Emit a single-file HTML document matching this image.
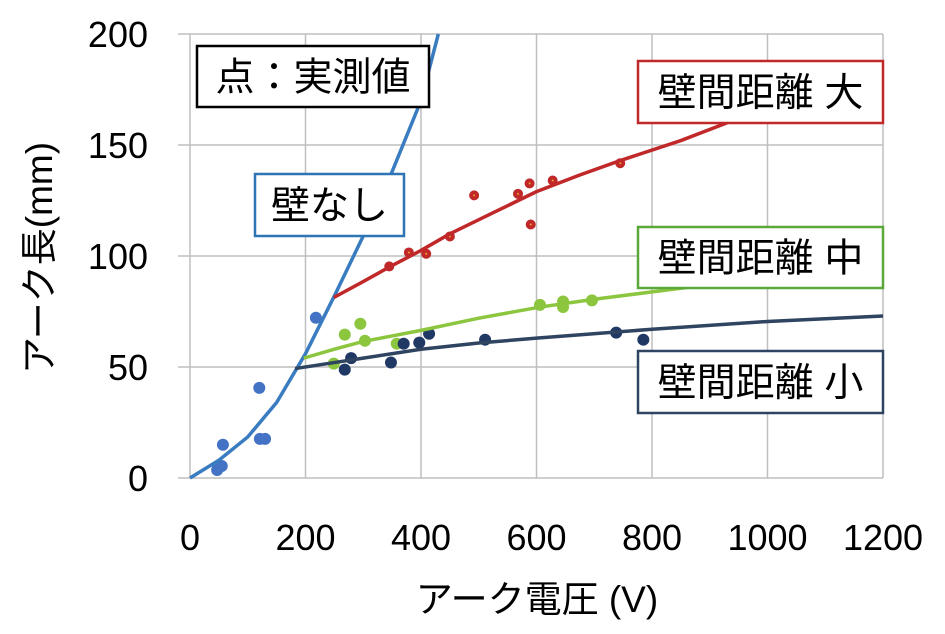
<!DOCTYPE html>
<html><head><meta charset="utf-8">
<style>
body{margin:0;background:#fff;}
svg{display:block;font-family:"Liberation Sans","Noto Sans CJK JP",sans-serif;}
</style></head>
<body>
<svg id="chart" width="945" height="634" viewBox="0 0 945 634" xmlns="http://www.w3.org/2000/svg">
<g id="grid"></g>
<g id="series"></g>
<g id="labels"></g>
</svg>
<script>
const xTicks=[0,200,400,600,800,1000,1200];
const yTicks=[0,50,100,150,200];
const noWallX=[47,55,57,120,121,130,218];
const noWallY=[3.6,5.4,15,40.6,17.6,17.6,72.2];
const noWallFitX=[0,50,100,150,200,250,300,350,400,430];
const noWallFitY=[0,8,18.5,34,56,82,109,138,170,200];
const largeX=[345,379,409,450,492,568,588,590,628,745];
const largeY=[95.3,101.6,101,108.8,127.3,128,132.7,114.2,134,141.8];
const largeFitX=[249,300,345,400,450,525,600,675,745,850,1000,1100,1200];
const largeFitY=[81.3,88.5,95,102.5,110,119.5,129,136.5,143,152,167,176,185];
const midX=[249,268,295,303,358,606,646,646,696];
const midY=[51.5,64.6,69.5,61.8,60.5,78,79.5,77,80];
const midFitX=[197,250,300,350,400,500,606,700,865,1000,1200];
const midFitY=[54,58,61.5,64,66.5,72,77,80.5,86,90,96];
const smallX=[268,279,348,370,397,414,511,738,785];
const smallY=[48.8,54,52,60.5,61,65,62.3,65.5,62.3];
const smallFitX=[182,250,300,400,500,600,800,1000,1200];
const smallFitY=[49.3,52,54,58,60.8,63,67,70.5,73];

const NS="http://www.w3.org/2000/svg";
const X0=190,X1=883,Y0=478,Y1=34;
function sx(v){return X0+(v-0)/(1200-0)*(X1-X0);}
function sy(v){return Y0-(v-0)/(200-0)*(Y0-Y1);}
function mk(tag,attrs,parent){const e=document.createElementNS(NS,tag);for(const k in attrs)e.setAttribute(k,attrs[k]);parent.appendChild(e);return e;}
const grid=document.getElementById('grid'),ser=document.getElementById('series'),lab=document.getElementById('labels');
xTicks.forEach(t=>{
  const l=mk('line',{x1:sx(t),x2:sx(t),y1:Y1,y2:Y0,stroke:'#bfbfbf','stroke-width':1.5},grid);
  
  
  const tx=mk('text',{x:sx(t),y:550,'text-anchor':'middle','font-size':36,fill:'#000'},lab);
  tx.textContent=t;
  
  
});
yTicks.forEach(t=>{
  const l=mk('line',{x1:X0-12,x2:X1,y1:sy(t),y2:sy(t),stroke:'#bfbfbf','stroke-width':1.5},grid);
  
  
  const tx=mk('text',{x:148,y:sy(t)+13,'text-anchor':'end','font-size':36,fill:'#000'},lab);
  tx.textContent=t;
  
  
});
function line(xs,ys,color,name){
  const p=mk('polyline',{points:xs.map((x,i)=>sx(x)+','+sy(ys[i])).join(' '),fill:'none',stroke:color,'stroke-width':3.5,'stroke-linejoin':'round'},ser);
  
  
}
function pts(xs,ys,color,name,dot){
  xs.forEach((x,i)=>{
    const c=mk('circle',{cx:sx(x),cy:sy(ys[i]),r:dot?5:6,fill:color},ser);
    
    
    if(dot){const d=mk('circle',{cx:sx(x),cy:sy(ys[i]),r:1,fill:'#f0a030'},ser);
      
      }
  });
}
pts(noWallX,noWallY,'#4472c4','no-wall-point');
pts(largeX,largeY,'#c0282a','large-gap-point',true);
pts(midX,midY,'#8cc63f','mid-gap-point');
pts(smallX,smallY,'#203864','small-gap-point');
line(noWallFitX,noWallFitY,'#3a7cc0','no-wall-curve');
line(largeFitX,largeFitY,'#c0282a','large-gap-curve');
line(midFitX,midFitY,'#8cc63f','mid-gap-curve');
line(smallFitX,smallFitY,'#2e4460','small-gap-curve');
function box(x,y,w,h,color,text,name){
  const g=mk('g',{},lab);
  
  
  mk('rect',{x:x,y:y,width:w,height:h,fill:'#fff',stroke:color,'stroke-width':2.5},g);
  const t=mk('text',{x:x+w/2,y:y+h/2+14,'text-anchor':'middle','font-size':39,fill:'#000'},g);
  t.textContent=text;
}
box(197,46,232,61,'#000','点：実測値','legend-note-box');
box(255,174,149,62,'#2e75b6','壁なし','no-wall-label');
box(638,61,245,62,'#c0282a','壁間距離 大','large-gap-label');
box(638,227,245,61,'#5aa83a','壁間距離 中','mid-gap-label');
box(638,351,245,62,'#2e4460','壁間距離 小','small-gap-label');
const xt=mk('text',{x:537,y:612,'text-anchor':'middle','font-size':37,fill:'#000'},lab);
xt.textContent='アーク電圧 (V)';


const yt=mk('text',{x:0,y:0,'text-anchor':'middle','font-size':37,fill:'#000',transform:'translate(52,258) rotate(-90)'},lab);
yt.textContent='アーク長(mm)';


</script>
</body></html>
